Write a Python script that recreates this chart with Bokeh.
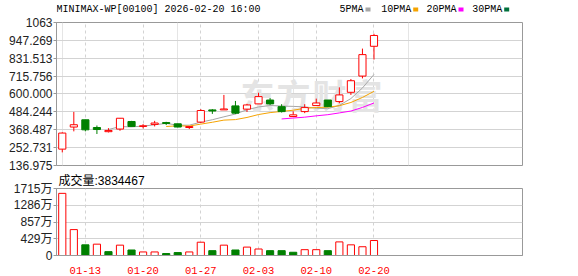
import numpy as np
import pandas as pd
from bokeh.plotting import figure
from bokeh.models import Range1d, FixedTicker, Grid, ColumnDataSource
from bokeh.layouts import column
from bokeh.embed import file_html
from bokeh.resources import INLINE
from bokeh.core.properties import value

# ---------------- data ----------------
dates = ["01-09", "01-12", "01-13", "01-14", "01-15", "01-16", "01-19", "01-20",
         "01-21", "01-22", "01-23", "01-26", "01-27", "01-28", "01-29", "01-30",
         "02-02", "02-03", "02-04", "02-05", "02-06", "02-09", "02-10", "02-11",
         "02-12", "02-13", "02-16", "02-20"]
opens = [243, 386, 433, 383, 356, 373, 422, 390, 403, 415, 407, 383, 418, 497,
         497, 523, 502, 536, 561, 518, 454, 486, 525, 561, 551, 611, 716, 909]
highs = [352, 484, 433, 396, 379, 444, 426, 405, 426, 420, 407, 392, 502, 502,
         594, 555, 536, 608, 574, 534, 488, 534, 570, 561, 643, 697, 894, 990]
lows = [222, 358, 358, 341, 351, 362, 390, 377, 390, 399, 384, 373, 412, 471,
        497, 470, 484, 535, 529, 480, 452, 476, 525, 515, 540, 594, 701, 823]
closes = [347, 401, 368, 370, 364, 443, 390, 394, 412, 409, 386, 389, 493, 490,
          503, 476, 529, 583, 536, 486, 465, 512, 542, 518, 594, 686, 855, 979]
volumes_wan = [1591, 663, 273, 290, 99, 265, 141, 91, 91, 50, 75, 91, 340, 124,
               265, 141, 215, 166, 124, 124, 83, 149, 149, 124, 348, 273, 224,
               383.4467]
last_volume = 3834467

price_ticks = [136.975, 252.731, 368.487, 484.244, 600.000, 715.756, 831.513, 947.269, 1063.02]
price_tick_labels = ["136.975", "252.731", "368.487", "484.244", "600.000",
                     "715.756", "831.513", "947.269", "1063"]
vol_ticks = [0, 428.75e4, 857.5e4, 1286.25e4, 1715e4]
vol_tick_labels = ["0", "429万", "857万", "1286万", "1715万"]
date_tick_labels = ["01-13", "01-20", "01-27", "02-03", "02-10", "02-20"]

header = "MINIMAX-WP[00100] 2026-02-20 16:00"
ma_names = ["5PMA", "10PMA", "20PMA", "30PMA"]
ma_windows = [5, 10, 20, 30]
ma_colors = ["#a6a6a6", "#f5a300", "#ff00ff", "#00703c"]

# ---------------- layout constants ----------------
W = 578
FL, FR = 56, 522             # frame left/right (px)
H0 = 14                      # header strip height
T1, FH1, B1 = 8, 143, 7      # price fig: top border, frame height, bottom border
T2, FH2, B2 = 14, 69, 21     # volume fig
H1 = T1 + FH1 + B1
H2 = T2 + FH2 + B2
RED, GREEN = "#ff0000", "#008000"
GRID = "#d3d3d3"
BORDER = "#999999"
MONO = "Liberation Mono"
SANS = "Liberation Sans, Noto Sans CJK SC"

n = len(dates)
idx = np.arange(n)
xmin = -0.5
slot = 11.545
xmax = xmin + (FR - FL) / slot
ymin, ymax = price_ticks[0], price_ticks[-1]
vmax = vol_ticks[-1]
frame_top1 = H0 + T1

def xd(px):
    return xmin + (px - FL) / slot

def yd1(py):  # page px -> price
    return ymin + ((frame_top1 + FH1) - py) * (ymax - ymin) / FH1

date_idx = [dates.index(d) for d in date_tick_labels]

o = np.array(opens, float); c = np.array(closes, float)
h = np.array(highs, float); l = np.array(lows, float)
up = c >= o
vol = np.array(volumes_wan) * 1e4
prev = np.concatenate([[0], c[:-1]])
vol_up = c >= prev

# ---------------- header strip (page-pixel coordinates) ----------------
hd = figure(width=W, height=H0, x_range=Range1d(FL, FR), y_range=Range1d(H0, 0),
            output_backend="svg", toolbar_location=None, x_axis_location=None,
            y_axis_location=None, min_border_left=FL, min_border_right=W - FR,
            min_border_top=0, min_border_bottom=0, outline_line_color=None)
hd.grid.visible = False
hd.text(x=[56], y=[8.5], text=[header], text_font=value(MONO), text_font_size="10px",
        text_color="#000000", text_baseline="middle", text_align="left")
leg_x = [339, 380.7, 426, 471.7]
for name, col, lx in zip(ma_names, ma_colors, leg_x):
    hd.text(x=[lx], y=[8.5], text=[name], text_font=value(MONO), text_font_size="10px",
            text_color="#000000", text_baseline="middle", text_align="left")
    sx = lx + 6 * len(name) + 2
    hd.quad(left=[sx], right=[sx + 5], top=[7], bottom=[11], fill_color=col,
            line_color=None)

# ---------------- price figure ----------------
p = figure(width=W, height=H1, x_range=Range1d(xmin, xmax), y_range=Range1d(ymin, ymax),
           output_backend="svg", toolbar_location=None, x_axis_location=None,
           min_border_left=FL, min_border_right=W - FR, min_border_top=T1,
           min_border_bottom=B1, background_fill_color="white", border_fill_color="white")
p.outline_line_color = BORDER
p.ygrid.ticker = FixedTicker(ticks=price_ticks)
p.ygrid.grid_line_color = GRID
vg = Grid(dimension=0, ticker=FixedTicker(ticks=date_idx), grid_line_color=GRID,
          grid_line_dash="3 3")
p.add_layout(vg)

ya = p.yaxis[0]
ya.ticker = FixedTicker(ticks=price_ticks)
ya.major_label_overrides = {t: s for t, s in zip(price_ticks, price_tick_labels)}
ya.axis_line_color = BORDER
ya.major_tick_line_color = BORDER
ya.major_tick_out = 3
ya.major_tick_in = 0
ya.minor_tick_line_color = None
ya.major_label_standoff = 1
ya.major_label_text_font = "Liberation Sans"
ya.major_label_text_font_size = "12px"
ya.major_label_text_color = "#222222"

# watermark
wm_chars = ["东", "方", "财", "富"]
wm_px = [240, 276, 312, 348]
p.text(x=[xd(v) for v in wm_px], y=[yd1(94)] * 4, text=wm_chars,
       text_font=value("Noto Sans CJK SC"), text_font_size="34px",
       text_font_style="bold", text_color="#e4e4e4",
       text_baseline="middle", text_align="left")

src_up = ColumnDataSource(dict(x=idx[up], o=o[up], c=c[up], h=h[up], l=l[up]))
src_dn = ColumnDataSource(dict(x=idx[~up], o=o[~up], c=c[~up], h=h[~up], l=l[~up]))

# moving averages
closes_s = pd.Series(c)
for name, win, col in zip(ma_names, ma_windows, ma_colors):
    ma = closes_s.rolling(win).mean().to_numpy()
    if np.all(np.isnan(ma)):
        continue
    p.line(idx, ma, line_color=col, line_width=1)

p.segment(x0="x", y0="h", x1="x", y1="l", source=src_up, line_color=RED, line_width=1)
p.segment(x0="x", y0="h", x1="x", y1="l", source=src_dn, line_color=GREEN, line_width=1)
p.vbar(x="x", bottom="o", top="c", width=0.62, source=src_up, fill_color="white",
       line_color=RED, line_width=1)
p.vbar(x="x", bottom="c", top="o", width=0.62, source=src_dn, fill_color=GREEN,
       line_color=GREEN, line_width=1)

# ---------------- volume figure ----------------
q = figure(width=W, height=H2, x_range=p.x_range, y_range=Range1d(0, vmax),
           output_backend="svg", toolbar_location=None,
           min_border_left=FL, min_border_right=W - FR, min_border_top=T2,
           min_border_bottom=B2, background_fill_color="white", border_fill_color="white",
           title=f"成交量:{last_volume}")
q.title.text_font = SANS
q.title.text_font_size = "12px"
q.title.text_font_style = "normal"
q.title.text_color = "#000000"
q.title.align = "left"
q.title.vertical_align = "middle"
q.title.offset = 2
q.title.standoff = 0
q.outline_line_color = BORDER
q.ygrid.ticker = FixedTicker(ticks=vol_ticks)
q.ygrid.grid_line_color = GRID
q.xgrid.ticker = FixedTicker(ticks=date_idx)
q.xgrid.grid_line_color = GRID
q.xgrid.grid_line_dash = "3 3"

qa = q.yaxis[0]
qa.ticker = FixedTicker(ticks=vol_ticks)
qa.major_label_overrides = {t: s for t, s in zip(vol_ticks, vol_tick_labels)}
qa.axis_line_color = BORDER
qa.major_tick_line_color = BORDER
qa.major_tick_out = 3
qa.major_tick_in = 0
qa.minor_tick_line_color = None
qa.major_label_standoff = 1
qa.major_label_text_font = SANS
qa.major_label_text_font_size = "12px"
qa.major_label_text_color = "#222222"

xa = q.xaxis[0]
xa.ticker = FixedTicker(ticks=date_idx)
xa.major_label_overrides = {i: d for i, d in zip(date_idx, date_tick_labels)}
xa.axis_line_color = BORDER
xa.major_tick_line_color = None
xa.minor_tick_line_color = None
xa.major_label_standoff = 5
xa.major_label_text_font = MONO
xa.major_label_text_font_size = "10.5px"
xa.major_label_text_color = RED

vsrc_up = ColumnDataSource(dict(x=idx[vol_up], v=vol[vol_up]))
vsrc_dn = ColumnDataSource(dict(x=idx[~vol_up], v=vol[~vol_up]))
q.vbar(x="x", top="v", bottom=0, width=0.62, source=vsrc_up, fill_color="white",
       line_color=RED, line_width=1)
q.vbar(x="x", top="v", bottom=0, width=0.62, source=vsrc_dn, fill_color=GREEN,
       line_color=GREEN, line_width=1)

layout = column(hd, p, q, spacing=0)
open("out.html", "w").write(file_html(layout, INLINE))
